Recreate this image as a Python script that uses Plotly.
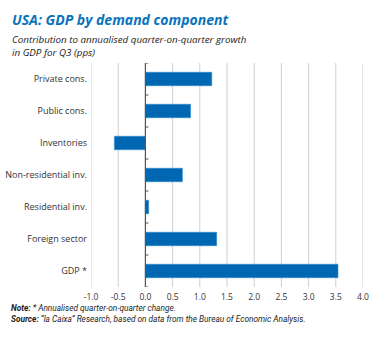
import plotly.graph_objects as go

categories = ["Private cons.", "Public cons.", "Inventories", "Non-residential inv.",
              "Residential inv.", "Foreign sector", "GDP *"]
values = [1.22, 0.83, -0.57, 0.68, 0.06, 1.31, 3.54]
x_ticks = [-1.0, -0.5, 0.0, 0.5, 1.0, 1.5, 2.0, 2.5, 3.0, 3.5, 4.0]
x_tick_labels = ["-1.0", "-0.5", "0.0", "0.5", "1.0", "1.5", "2.0", "2.5", "3.0", "3.5", "4.0"]

BLUE = "#0068b3"
FONT = "Open Sans"
SMALL = "Roboto"
AXIS = "#555555"
GRID = "#cfcfcf"

fig = go.Figure()
fig.add_trace(go.Bar(
    y=categories, x=values, orientation="h",
    marker=dict(color=BLUE, line=dict(color="#2f86c6", width=0.6)),
    width=0.42, showlegend=False,
))

xmin, xmax = -1.0, 4.0
n = len(categories)
fig.update_layout(
    width=373, height=338,
    margin=dict(l=91, r=10, t=63, b=51),
    paper_bgcolor="white", plot_bgcolor="white",
    font=dict(family=FONT, color="#333333"),
    xaxis=dict(range=[xmin, xmax], tickvals=x_ticks, ticktext=x_tick_labels,
               showgrid=False, zeroline=False,
               showline=False, ticks="", automargin=False,
               ticklabelstandoff=3,
               tickfont=dict(size=8.5, family=FONT, color="#333333")),
    yaxis=dict(categoryorder="array", categoryarray=categories[::-1],
               autorange=False, range=[-0.5, n - 0.5],
               showgrid=False, zeroline=False, showline=False, ticks="",
               ticklabelstandoff=3, automargin=False,
               tickfont=dict(size=9, family=FONT, color="#333333")),
    bargap=0.58,
)

# vertical gridlines at each x tick, drawn below the bars
for v in x_ticks:
    if v == 0:
        continue
    fig.add_shape(type="line", xref="x", yref="paper", x0=v, x1=v, y0=0, y1=1,
                  layer="below", line=dict(color=GRID, width=1))
# category axis line at x = 0
fig.add_shape(type="line", xref="x", yref="paper", x0=0, x1=0, y0=0, y1=1,
              layer="above", line=dict(color=AXIS, width=1.2))
# small inward tick marks on the category axis at category boundaries
for i in range(n + 1):
    fig.add_shape(type="line", xref="x", yref="y", xsizemode="pixel", xanchor=0,
                  x0=0, x1=3, y0=i - 0.5, y1=i - 0.5,
                  line=dict(color=AXIS, width=1))

anns = [
    dict(text="<b><i>USA: GDP by demand component</i></b>", x=-0.296, y=1.196,
         font=dict(size=14, color="#0a72bb", family=FONT)),
    dict(text="<i>Contribution to annualised quarter-on-quarter growth<br>in GDP for Q3 (pps)</i>",
         x=-0.296, y=1.078, font=dict(size=9.8, color="#222222", family=FONT)),
    dict(text="<b><i>Note:</i></b><i> * Annualised quarter-on-quarter change.</i>",
         x=-0.3, y=-0.095, font=dict(size=8.3, color="#222222", family=SMALL)),
    dict(text="<b><i>Source:</i></b><i> \u201cla Caixa\u201d Research, based on data from the Bureau of Economic Analysis.</i>",
         x=-0.3, y=-0.142, font=dict(size=8.3, color="#222222", family=SMALL)),
]
for a in anns:
    fig.add_annotation(xref="paper", yref="paper", xanchor="left", yanchor="middle",
                       showarrow=False, align="left", **a)

fig.write_html("out.html")
